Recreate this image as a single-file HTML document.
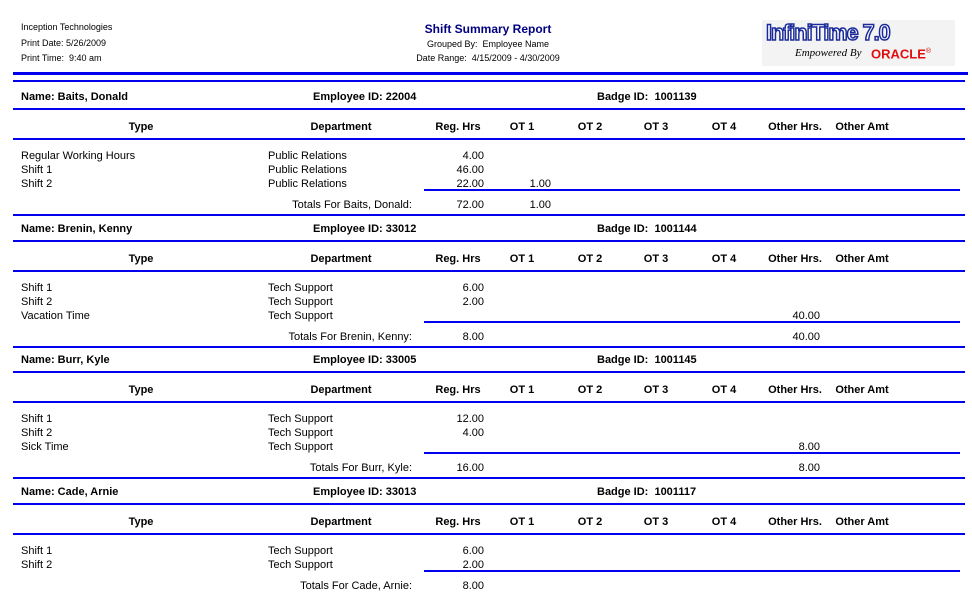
<!DOCTYPE html>
<html><head><meta charset="utf-8"><style>
body{margin:0;width:972px;height:592px;background:#fff;position:relative;overflow:hidden;font-family:"Liberation Sans",Arial,sans-serif;font-size:11px;color:#000}
.t{position:absolute;white-space:nowrap;line-height:12px}
.b{font-weight:bold}
.r{text-align:right}
.c{text-align:center}
.l{position:absolute;background:#0000ee;height:2px}
</style></head><body>
<div class="t" style="left:21px;top:21px;font-size:9px">Inception Technologies</div>
<div class="t" style="left:21px;top:37px;font-size:9px">Print Date: 5/26/2009</div>
<div class="t" style="left:21px;top:52px;font-size:9px">Print Time:&nbsp; 9:40 am</div>
<div class="t b c" style="left:388px;width:200px;top:23px;font-size:12px;color:#000080">Shift Summary Report</div>
<div class="t c" style="left:388px;width:200px;top:38px;font-size:9px">Grouped By:&nbsp; Employee Name</div>
<div class="t c" style="left:388px;width:200px;top:52px;font-size:9px">Date Range:&nbsp; 4/15/2009 - 4/30/2009</div>
<div style="position:absolute;left:762px;top:20px;width:193px;height:46px;background:#f3f3f3"></div>
<div class="t b" style="left:766px;top:21px;font-size:22px;line-height:24px;color:#fff;-webkit-text-stroke:1.5px #1a2a9a;letter-spacing:-1px;transform:scaleX(0.98);transform-origin:left">InfiniTime 7.0</div>
<div class="t" style="left:795px;top:47px;font-size:11px;font-style:italic;font-family:'Liberation Serif',serif">Empowered By</div>
<div class="t b" style="left:871px;top:46px;font-size:13px;color:#e01010">ORACLE<sup style="font-size:7px;font-weight:normal">®</sup></div>
<div class="l" style="left:13px;width:955px;top:72px;height:3px"></div>
<div class="l" style="left:13px;width:952px;top:80px"></div>
<div id="d"></div>
<script>
var blocks=[
{n:"Baits, Donald",e:"22004",b:"1001139",rows:[["Regular Working Hours","Public Relations","4.00","",""],["Shift 1","Public Relations","46.00","",""],["Shift 2","Public Relations","22.00","1.00",""]],t:["72.00","1.00",""]},
{n:"Brenin, Kenny",e:"33012",b:"1001144",rows:[["Shift 1","Tech Support","6.00","",""],["Shift 2","Tech Support","2.00","",""],["Vacation Time","Tech Support","","","40.00"]],t:["8.00","","40.00"]},
{n:"Burr, Kyle",e:"33005",b:"1001145",rows:[["Shift 1","Tech Support","12.00","",""],["Shift 2","Tech Support","4.00","",""],["Sick Time","Tech Support","","","8.00"]],t:["16.00","","8.00"]},
{n:"Cade, Arnie",e:"33013",b:"1001117",rows:[["Shift 1","Tech Support","6.00","",""],["Shift 2","Tech Support","2.00","",""]],t:["8.00","",""]}];
var h="";
function tx(x,y,s,cls,w){h+='<div class="t '+(cls||'')+'" style="left:'+x+'px;top:'+(y-5)+'px'+(w?';width:'+w+'px':'')+'">'+s+'</div>';}
function ln(x,y,w){h+='<div class="l" style="left:'+x+'px;top:'+y+'px;width:'+w+'px"></div>';}
var hdr=[["Type",141],["Department",341],["Reg. Hrs",458],["OT 1",522],["OT 2",590],["OT 3",656],["OT 4",724],["Other Hrs.",795],["Other Amt",862]];
blocks.forEach(function(B,i){
 var y0=96+i*131.7;
 tx(21,y0,"Name: "+B.n,"b");tx(313,y0,"Employee ID: "+B.e,"b");tx(597,y0,"Badge ID:&nbsp; "+B.b,"b");
 ln(13,Math.round(y0+12),952);
 hdr.forEach(function(c){tx(c[1]-50,y0+30,c[0],"b c",100);});
 ln(13,Math.round(y0+42),952);
 var ry=y0+59;
 B.rows.forEach(function(r,k){var y=ry+k*14;tx(21,y,r[0]);tx(268,y,r[1]);
  if(r[2])tx(384,y,r[2],"r",100);if(r[3])tx(451,y,r[3],"r",100);if(r[4])tx(720,y,r[4],"r",100);});
 var uy=ry+B.rows.length*14-8;
 ln(424,Math.round(uy),536);
 var ty=ry+B.rows.length*14+7;
 tx(212,ty,"Totals For "+B.n+":","r",200);
 tx(384,ty,B.t[0],"r",100);if(B.t[1])tx(451,ty,B.t[1],"r",100);if(B.t[2])tx(720,ty,B.t[2],"r",100);
 if(i<3)ln(13,Math.round(y0+118),952);
});
document.getElementById("d").innerHTML=h;
</script>
</body></html>
